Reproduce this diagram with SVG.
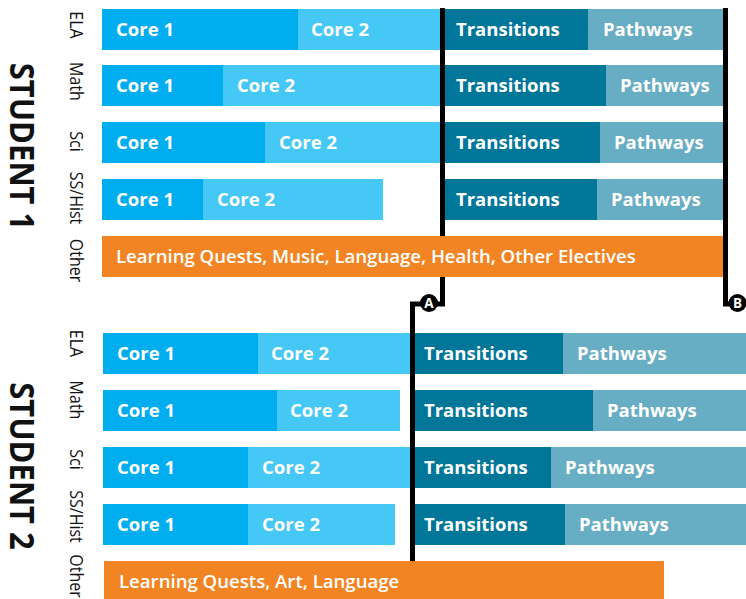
<svg xmlns="http://www.w3.org/2000/svg" width="746" height="599" viewBox="0 0 746 599">
<style>
.c1{fill:#00ADEF}.c2{fill:#45C8F5}.tr{fill:#007699}.pw{fill:#67ADC3}.ot{fill:#F38423}
.bt{font-family:"Open Sans","Liberation Sans",sans-serif;font-weight:700;font-size:18.5px;fill:#fff}
.ob{font-family:"Open Sans","Liberation Sans",sans-serif;font-weight:600;font-size:18.6px;fill:#fff}
.lb{font-family:"Open Sans","Liberation Sans",sans-serif;font-size:16px;fill:#111;text-anchor:middle}
.st{font-family:"Open Sans","Liberation Sans",sans-serif;font-weight:700;font-size:31px;fill:#111;text-anchor:middle}
.ln{fill:none;stroke:#000;stroke-width:5}
.mk{font-family:"Open Sans","Liberation Sans",sans-serif;font-weight:700;font-size:13.5px;fill:#fff;text-anchor:middle}
</style>
<g id="labels">
<text class="st" transform="translate(10,146.5) rotate(90) scale(1,1.1)">STUDENT 1</text>
<text class="st" transform="translate(10,466) rotate(90) scale(1,1.1)">STUDENT 2</text>
<text class="lb" transform="translate(70,25) rotate(90) scale(1,1.15)">ELA</text>
<text class="lb" transform="translate(70,81.5) rotate(90) scale(1,1.15)">Math</text>
<text class="lb" transform="translate(70,141.5) rotate(90) scale(1,1.15)">Sci</text>
<text class="lb" transform="translate(70,198) rotate(90) scale(1,1.15)">SS/Hist</text>
<text class="lb" transform="translate(70,260.5) rotate(90) scale(1,1.15)">Other</text>
<text class="lb" transform="translate(70,343.5) rotate(90) scale(1,1.15)">ELA</text>
<text class="lb" transform="translate(70,400) rotate(90) scale(1,1.15)">Math</text>
<text class="lb" transform="translate(70,459.5) rotate(90) scale(1,1.15)">Sci</text>
<text class="lb" transform="translate(70,516.5) rotate(90) scale(1,1.15)">SS/Hist</text>
<text class="lb" transform="translate(70,576) rotate(90) scale(1,1.15)">Other</text>
</g>
<g id="s1-ela">
<rect class="c1" x="102" y="9" width="196" height="41"/><rect class="c2" x="298" y="9" width="142" height="41"/>
<rect class="tr" x="445" y="9" width="143" height="41"/><rect class="pw" x="588" y="9" width="135" height="41"/>
<text class="bt" x="116" y="36">Core 1</text><text class="bt" x="311" y="36">Core 2</text>
<text class="bt" x="456" y="36">Transitions</text><text class="bt" x="603" y="36">Pathways</text>
</g>
<g id="s1-math">
<rect class="c1" x="102" y="65" width="121" height="41"/><rect class="c2" x="223" y="65" width="217" height="41"/>
<rect class="tr" x="445" y="65" width="161" height="41"/><rect class="pw" x="606" y="65" width="117" height="41"/>
<text class="bt" x="116" y="92">Core 1</text><text class="bt" x="237" y="92">Core 2</text>
<text class="bt" x="456" y="92">Transitions</text><text class="bt" x="620" y="92">Pathways</text>
</g>
<g id="s1-sci">
<rect class="c1" x="102" y="122" width="163" height="41"/><rect class="c2" x="265" y="122" width="175" height="41"/>
<rect class="tr" x="445" y="122" width="155" height="41"/><rect class="pw" x="600" y="122" width="123" height="41"/>
<text class="bt" x="116" y="149">Core 1</text><text class="bt" x="279" y="149">Core 2</text>
<text class="bt" x="456" y="149">Transitions</text><text class="bt" x="614" y="149">Pathways</text>
</g>
<g id="s1-ss">
<rect class="c1" x="102" y="179" width="101" height="41"/><rect class="c2" x="203" y="179" width="180" height="41"/>
<rect class="tr" x="445" y="179" width="152" height="41"/><rect class="pw" x="597" y="179" width="126" height="41"/>
<text class="bt" x="116" y="206">Core 1</text><text class="bt" x="217" y="206">Core 2</text>
<text class="bt" x="456" y="206">Transitions</text><text class="bt" x="611" y="206">Pathways</text>
</g>
<g id="s2-ela">
<rect class="c1" x="103" y="333" width="155" height="41"/><rect class="c2" x="258" y="333" width="152" height="41"/>
<rect class="tr" x="415" y="333" width="148" height="41"/><rect class="pw" x="563" y="333" width="183" height="41"/>
<text class="bt" x="117" y="360">Core 1</text><text class="bt" x="271" y="360">Core 2</text>
<text class="bt" x="424" y="360">Transitions</text><text class="bt" x="577" y="360">Pathways</text>
</g>
<g id="s2-math">
<rect class="c1" x="103" y="390" width="174" height="41"/><rect class="c2" x="277" y="390" width="123" height="41"/>
<rect class="tr" x="415" y="390" width="178" height="41"/><rect class="pw" x="593" y="390" width="153" height="41"/>
<text class="bt" x="117" y="417">Core 1</text><text class="bt" x="290" y="417">Core 2</text>
<text class="bt" x="424" y="417">Transitions</text><text class="bt" x="607" y="417">Pathways</text>
</g>
<g id="s2-sci">
<rect class="c1" x="103" y="447" width="145" height="41"/><rect class="c2" x="248" y="447" width="162" height="41"/>
<rect class="tr" x="415" y="447" width="136" height="41"/><rect class="pw" x="551" y="447" width="195" height="41"/>
<text class="bt" x="117" y="474">Core 1</text><text class="bt" x="262" y="474">Core 2</text>
<text class="bt" x="424" y="474">Transitions</text><text class="bt" x="565" y="474">Pathways</text>
</g>
<g id="s2-ss">
<rect class="c1" x="103" y="504" width="145" height="41"/><rect class="c2" x="248" y="504" width="147" height="41"/>
<rect class="tr" x="415" y="504" width="150" height="41"/><rect class="pw" x="565" y="504" width="181" height="41"/>
<text class="bt" x="117" y="531">Core 1</text><text class="bt" x="262" y="531">Core 2</text>
<text class="bt" x="424" y="531">Transitions</text><text class="bt" x="579" y="531">Pathways</text>
</g>
<g id="connectors">
<path class="ln" d="M442.5,8 V304 H412.5 V565"/>
<path class="ln" d="M725.5,8 V304 H736"/>
</g>
<g id="marker-a">
<circle cx="429" cy="303" r="9" fill="#000"/>
<text class="mk" x="429" y="308">A</text>
</g>
<g id="marker-b">
<circle cx="737.5" cy="303" r="9" fill="#000"/>
<text class="mk" x="737.5" y="308">B</text>
</g>
<g id="s1-other">
<rect class="ot" x="102" y="236" width="621" height="41"/>
<text class="ob" x="116" y="263">Learning Quests, Music, Language, Health, Other Electives</text>
</g>
<g id="s2-other">
<rect class="ot" x="104" y="561" width="560" height="41"/>
<text class="ob" x="119" y="588">Learning Quests, Art, Language</text>
</g>
</svg>
